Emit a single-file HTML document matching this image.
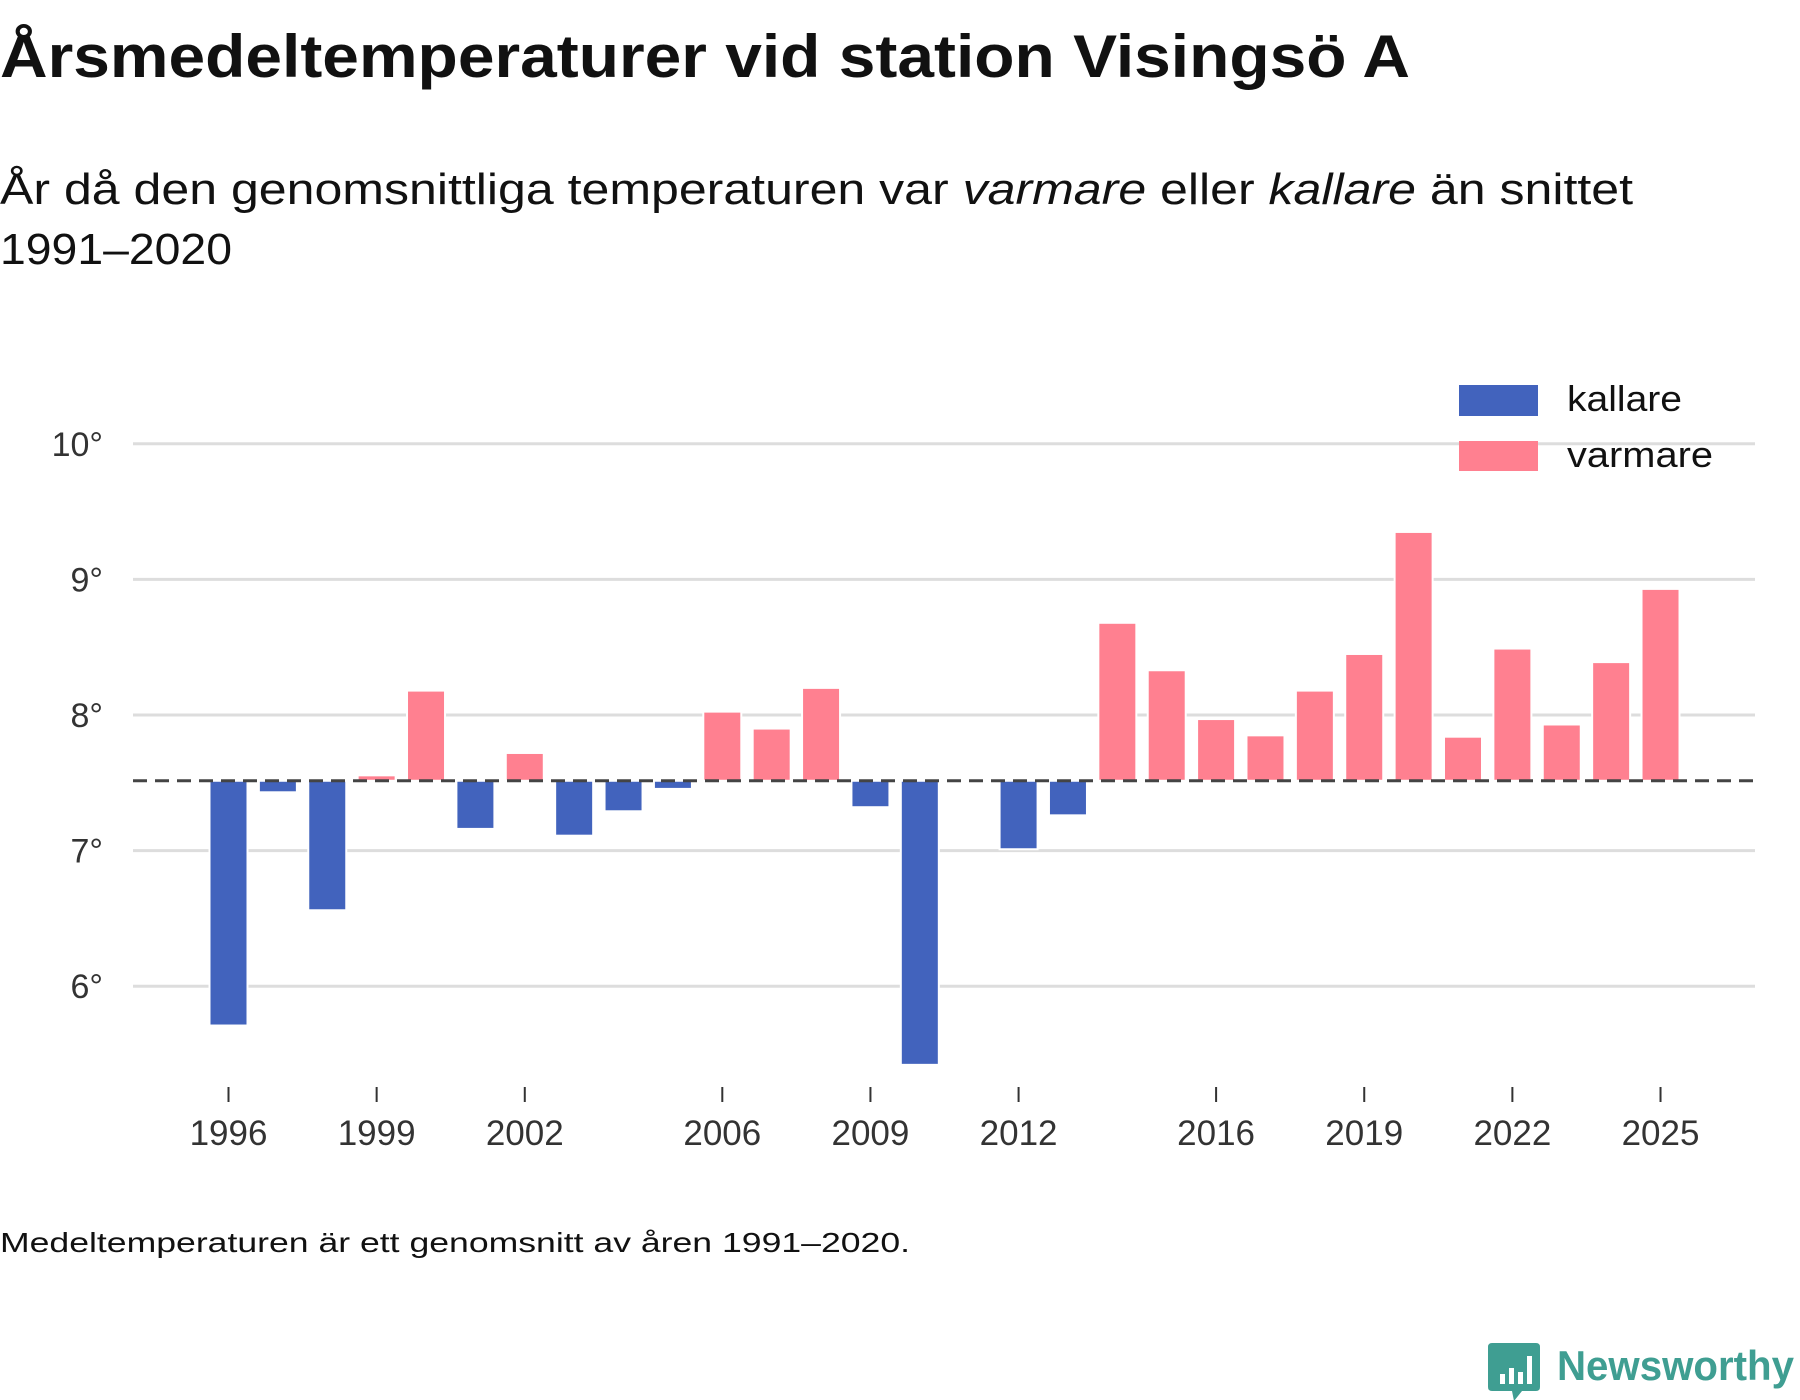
<!DOCTYPE html>
<html><head><meta charset="utf-8"><style>
html,body{margin:0;padding:0;background:#fff;}
svg{display:block;font-family:"Liberation Sans",sans-serif;}
</style></head><body>
<svg id="chart" width="1800" height="1400" viewBox="0 0 1800 1400" xmlns="http://www.w3.org/2000/svg">
<text x="0" y="77" font-size="60" font-weight="bold" fill="#111" textLength="1410" lengthAdjust="spacingAndGlyphs">Årsmedeltemperaturer vid station Visingsö A</text>
<text x="0" y="204" font-size="44" fill="#111" textLength="1633" lengthAdjust="spacingAndGlyphs">År då den genomsnittliga temperaturen var <tspan font-style="italic">varmare</tspan> eller <tspan font-style="italic">kallare</tspan> än snittet</text>
<text x="0" y="264" font-size="44" fill="#111" textLength="232" lengthAdjust="spacingAndGlyphs">1991–2020</text>
<g id="grid"></g>
<g id="bars"></g>
<g id="xaxis"></g>
<g>
<rect x="1459" y="385" width="79" height="31" fill="#4263bd"/>
<text x="1567" y="411" font-size="36" fill="#111" textLength="115" lengthAdjust="spacingAndGlyphs">kallare</text>
<rect x="1459" y="441" width="79" height="30" fill="#ff8090"/>
<text x="1567" y="467" font-size="36" fill="#111" textLength="146" lengthAdjust="spacingAndGlyphs">varmare</text>
</g>
<text x="0" y="1252" font-size="28" fill="#111" textLength="910" lengthAdjust="spacingAndGlyphs">Medeltemperaturen är ett genomsnitt av åren 1991–2020.</text>
<g>
<path d="M1492 1343 h44 q4 0 4 4 v40 q0 4 -4 4 h-14 l-8 10 l-2 -10 h-20 q-4 0 -4 -4 v-40 q0 -4 4 -4z" fill="#3f9e92"/>
<rect x="1500" y="1374" width="5" height="10" fill="#fff"/>
<rect x="1509" y="1368" width="5" height="16" fill="#fff"/>
<rect x="1518" y="1372" width="5" height="12" fill="#fff"/>
<rect x="1527" y="1356" width="5" height="28" fill="#fff"/>
<text x="1557" y="1380" font-size="42" font-weight="bold" fill="#3f9e92" textLength="237" lengthAdjust="spacingAndGlyphs">Newsworthy</text>
</g>
</svg>
<script>
const years = [1996,1997,1998,1999,2000,2001,2002,2003,2004,2005,2006,2007,2008,2009,2010,2012,2013,2014,2015,2016,2017,2018,2019,2020,2021,2022,2023,2024,2025];
const temps = [5.71,7.43,6.56,7.555,8.18,7.16,7.72,7.11,7.29,7.455,8.025,7.90,8.20,7.32,5.42,7.01,7.26,8.68,8.33,7.97,7.85,8.18,8.45,9.35,7.84,8.49,7.93,8.39,8.93];
const meanTemp = 7.515;
const yTicks = [6,7,8,9,10];
const yTickLabels = ["6°","7°","8°","9°","10°"];
const xTicks = [1996,1999,2002,2006,2009,2012,2016,2019,2022,2025];

const NS = "http://www.w3.org/2000/svg";
function y(v){ return 715 - (v - 8) * 135.6; }
function x(yr){ return 228.5 + (yr - 1996) * 49.38; }
function mk(tag, attrs, parent){ const e=document.createElementNS(NS,tag); for(const k in attrs) e.setAttribute(k,attrs[k]); parent.appendChild(e); return e; }

const grid = document.getElementById('grid');
yTicks.forEach((t,i)=>{
  const ln = mk('line',{x1:133,x2:1755,y1:y(t),y2:y(t),stroke:'#dddddd','stroke-width':3},grid);
  
  
  const tx = mk('text',{x:103,y:y(t)+12,'font-size':34,fill:'#333','text-anchor':'end'},grid);
  tx.textContent = yTickLabels[i];
  
  
});

const bars = document.getElementById('bars');
const bw = 38;
years.forEach((yr,i)=>{
  const v = temps[i];
  const top = Math.min(y(v), y(meanTemp)), bot = Math.max(y(v), y(meanTemp));
  const r = mk('rect',{x:x(yr)-bw/2,y:top,width:bw,height:Math.max(bot-top,1),fill: v>=meanTemp ? '#ff8090' : '#4263bd',stroke:'#fff','stroke-width':2},bars);
  
  
});
const mline = mk('line',{x1:133,x2:1755,y1:y(meanTemp),y2:y(meanTemp),stroke:'#444','stroke-width':3,'stroke-dasharray':'14 8'},bars);



const xa = document.getElementById('xaxis');
xTicks.forEach(yr=>{
  const tk = mk('line',{x1:x(yr),x2:x(yr),y1:1087,y2:1102,stroke:'#333','stroke-width':2},xa);
  
  
  const tx = mk('text',{x:x(yr),y:1145,'font-size':35,fill:'#333','text-anchor':'middle'},xa);
  tx.textContent = yr;
  
  
});
</script>
</body></html>
